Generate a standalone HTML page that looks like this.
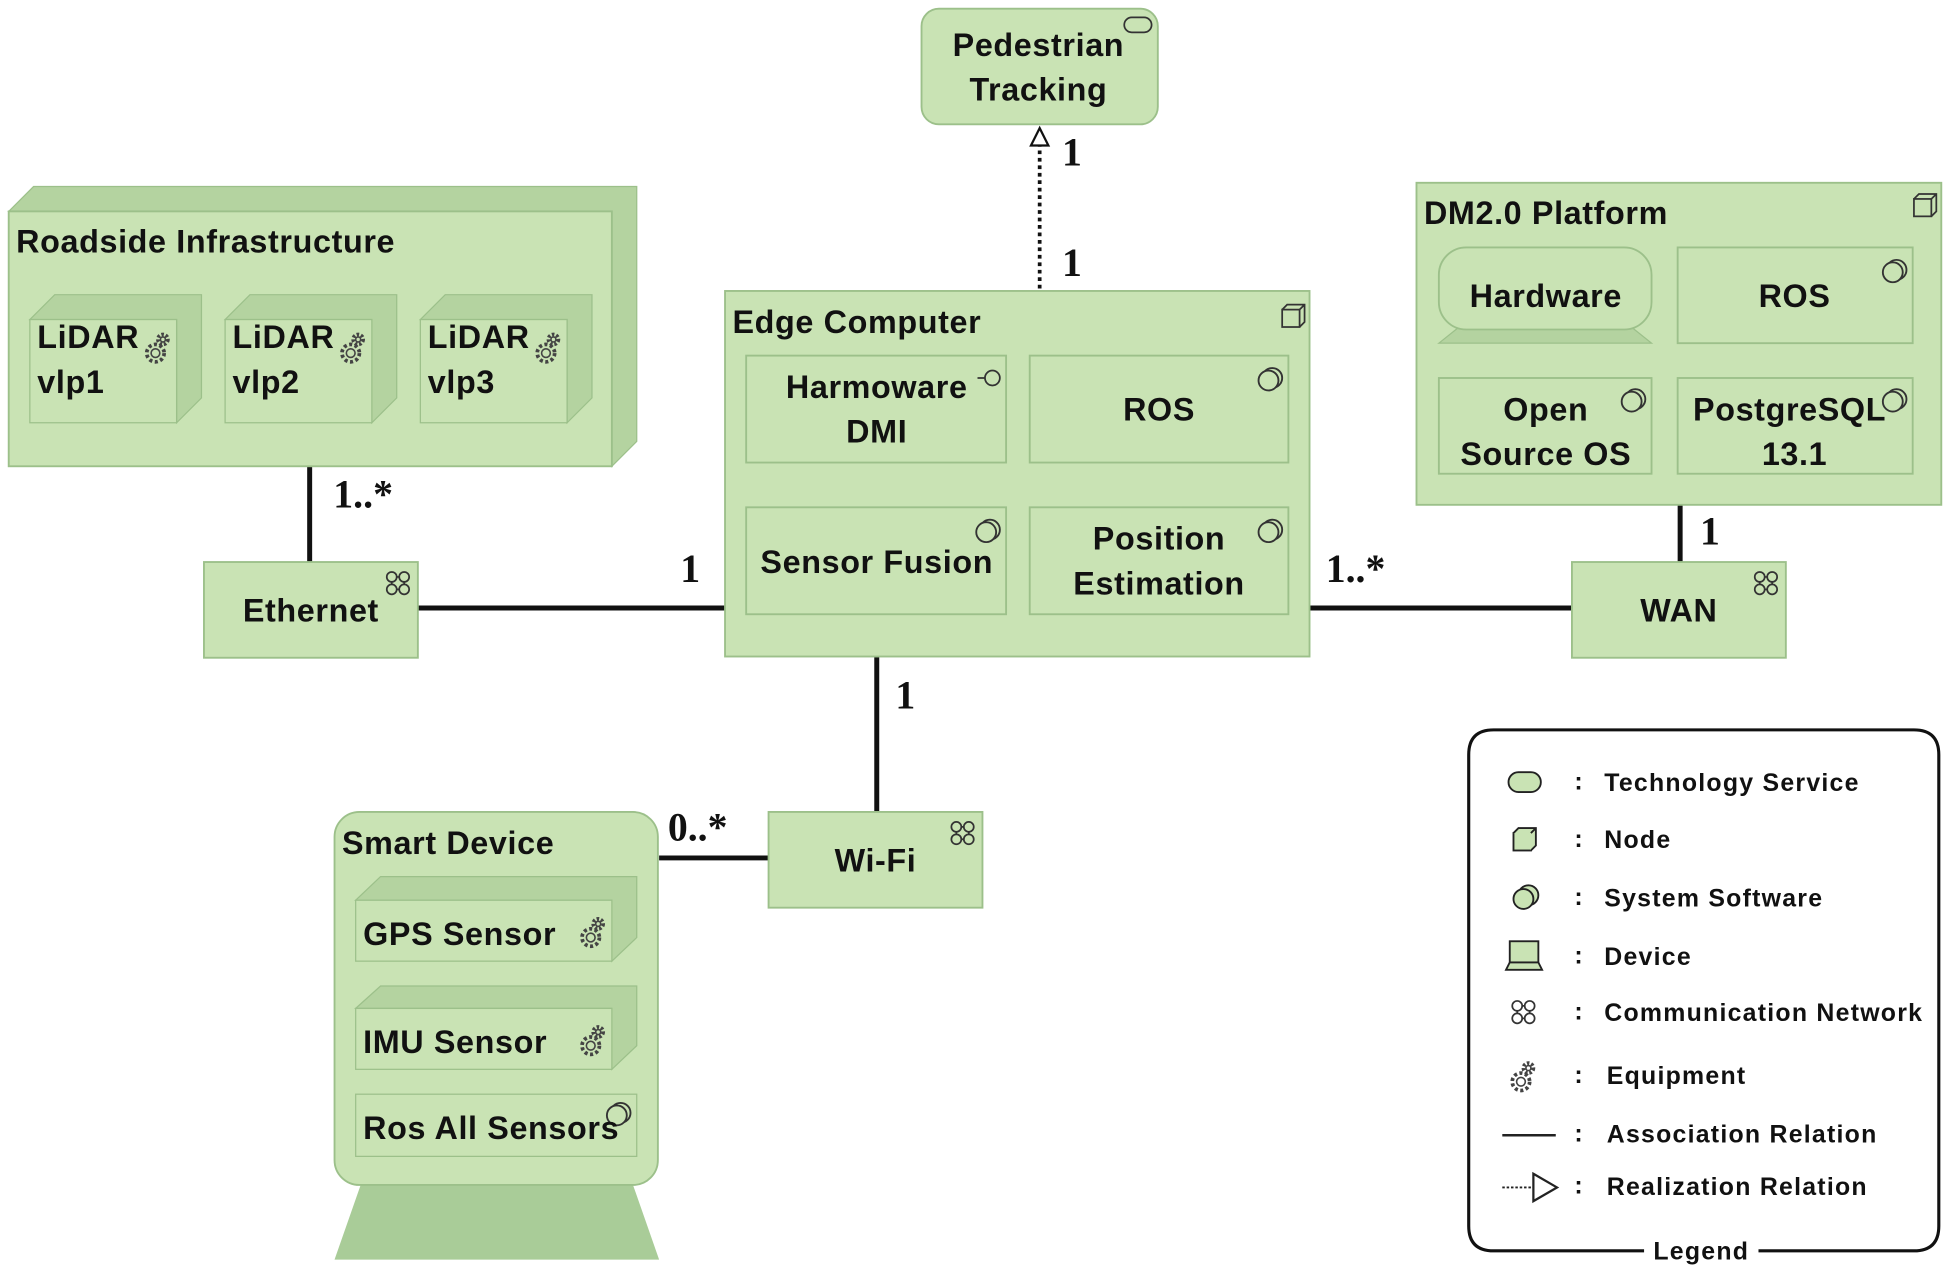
<!DOCTYPE html>
<html><head><meta charset="utf-8"><style>
html,body{margin:0;padding:0;background:#fff;}
svg{display:block;}
text{font-family:"Liberation Sans","DejaVu Sans",sans-serif;font-weight:bold;fill:#111;}
.t{font-size:26px;letter-spacing:0.5px;}
.n{font-family:"Liberation Serif",serif;font-size:32px;}
.l{font-size:20px;letter-spacing:1px;}
</style></head><body>
<svg width="1950" height="1272" viewBox="0 0 1568 1023" preserveAspectRatio="none" xmlns="http://www.w3.org/2000/svg">
<defs>
<g id="ss"><circle cx="3" cy="0" r="8" fill="none" stroke="#333" stroke-width="1.5"/><circle cx="0" cy="2" r="8" fill="#c9e3b4" stroke="#333" stroke-width="1.5"/></g>
<g id="gear" fill="none" stroke="#444" stroke-width="1.3"><circle cx="4" cy="-7" r="4" stroke-dasharray="2 1.5" stroke-width="3"/><circle cx="4" cy="-7" r="2"/><circle cx="-2" cy="4" r="7" stroke-dasharray="2.5 2" stroke-width="3"/><circle cx="-2" cy="4" r="3.5"/></g>
<g id="net" fill="none" stroke="#333" stroke-width="1.4"><circle cx="-5" cy="-5" r="4"/><circle cx="5" cy="-5" r="4"/><circle cx="-5" cy="5" r="4"/><circle cx="5" cy="5" r="4"/><path d="M-1-5H1M-1 5H1M-5-1V1M5-1V1"/></g>
<g id="node" fill="none" stroke="#333" stroke-width="1.4"><rect x="-9" y="-6" width="14" height="14"/><path d="M-9-6l4-4h14v14l-4 4M5-6l4-4"/></g>
</defs>
<g stroke="#111" stroke-width="4" fill="none">
<line x1="249" y1="375" x2="249" y2="452"/>
<line x1="336" y1="489" x2="583" y2="489"/>
<line x1="1053" y1="489" x2="1264" y2="489"/>
<line x1="1351" y1="406" x2="1351" y2="452"/>
<line x1="705" y1="528" x2="705" y2="653"/>
<line x1="530" y1="690" x2="618" y2="690"/>
</g>
<line x1="836" y1="232" x2="836" y2="117" stroke="#111" stroke-width="3" stroke-dasharray="3 3"/>
<path d="M836 103 L829 117 L843 117 Z" fill="#fff" stroke="#111" stroke-width="1.8"/>
<rect x="741" y="7" width="190" height="93" rx="14" fill="#c9e3b4" stroke="#9cc08a" stroke-width="1.5"/>
<rect x="904" y="14" width="22" height="12" rx="6" fill="none" stroke="#333" stroke-width="1.4"/>
<text class="t" x="835" y="45" text-anchor="middle">Pedestrian</text>
<text class="t" x="835" y="81" text-anchor="middle">Tracking</text>
<text class="n" x="854" y="133">1</text>
<text class="n" x="854" y="222">1</text>
<path d="M7 170 L27 150 L512 150 L512 355 L492 375 L492 170 Z" fill="#b4d3a0" stroke="#9cc08a"/>
<rect x="7" y="170" width="485" height="205" fill="#c9e3b4" stroke="#9cc08a" stroke-width="1.5"/>
<text class="t" x="13" y="203">Roadside Infrastructure</text>
<g>
<path d="M24 257 L44 237 L162 237 L162 320 L142 340 L142 257Z" fill="#b4d3a0" stroke="#9cc08a"/>
<rect x="24" y="257" width="118" height="83" fill="#c9e3b4" stroke="#9cc08a"/>
<text class="t" x="30" y="280">LiDAR</text><text class="t" x="30" y="316">vlp1</text>
<use href="#gear" x="127" y="280"/>
<path d="M181 257 L201 237 L319 237 L319 320 L299 340 L299 257Z" fill="#b4d3a0" stroke="#9cc08a"/>
<rect x="181" y="257" width="118" height="83" fill="#c9e3b4" stroke="#9cc08a"/>
<text class="t" x="187" y="280">LiDAR</text><text class="t" x="187" y="316">vlp2</text>
<use href="#gear" x="284" y="280"/>
<path d="M338 257 L358 237 L476 237 L476 320 L456 340 L456 257Z" fill="#b4d3a0" stroke="#9cc08a"/>
<rect x="338" y="257" width="118" height="83" fill="#c9e3b4" stroke="#9cc08a"/>
<text class="t" x="344" y="280">LiDAR</text><text class="t" x="344" y="316">vlp3</text>
<use href="#gear" x="441" y="280"/>
</g>
<text class="n" x="268" y="408">1..*</text>
<rect x="164" y="452" width="172" height="77" fill="#c9e3b4" stroke="#9cc08a" stroke-width="1.5"/>
<use href="#net" x="320" y="469"/>
<text class="t" x="250" y="500" text-anchor="middle">Ethernet</text>
<text class="n" x="547" y="468">1</text>
<rect x="583" y="234" width="470" height="294" fill="#c9e3b4" stroke="#9cc08a" stroke-width="1.5"/>
<use href="#node" x="1040" y="255"/>
<text class="t" x="589" y="268">Edge Computer</text>
<g fill="#c9e3b4" stroke="#9cc08a" stroke-width="1.5">
<rect x="600" y="286" width="209" height="86"/><rect x="828" y="286" width="208" height="86"/>
<rect x="600" y="408" width="209" height="86"/><rect x="828" y="408" width="208" height="86"/>
</g>
<circle cx="798" cy="304" r="6" fill="none" stroke="#333" stroke-width="1.4"/><line x1="786" y1="304" x2="792" y2="304" stroke="#333" stroke-width="1.4"/>
<use href="#ss" x="1020" y="304"/><use href="#ss" x="793" y="426"/><use href="#ss" x="1020" y="426"/>
<text class="t" x="705" y="320" text-anchor="middle">Harmoware</text>
<text class="t" x="705" y="356" text-anchor="middle">DMI</text>
<text class="t" x="932" y="338" text-anchor="middle">ROS</text>
<text class="t" x="705" y="461" text-anchor="middle">Sensor Fusion</text>
<text class="t" x="932" y="442" text-anchor="middle">Position</text>
<text class="t" x="932" y="478" text-anchor="middle">Estimation</text>
<text class="n" x="1066" y="468">1..*</text>
<rect x="1264" y="452" width="172" height="77" fill="#c9e3b4" stroke="#9cc08a" stroke-width="1.5"/>
<use href="#net" x="1420" y="469"/>
<text class="t" x="1350" y="500" text-anchor="middle">WAN</text>
<text class="n" x="1367" y="438">1</text>
<rect x="1139" y="147" width="422" height="259" fill="#c9e3b4" stroke="#9cc08a" stroke-width="1.5"/>
<use href="#node" x="1548" y="166"/>
<text class="t" x="1145" y="180">DM2.0 Platform</text>
<path d="M1157 276 L1172 264 L1313 264 L1328 276Z" fill="#b4d3a0" stroke="#9cc08a"/>
<rect x="1157" y="199" width="171" height="66" rx="22" fill="#c9e3b4" stroke="#9cc08a" stroke-width="1.5"/>
<g fill="#c9e3b4" stroke="#9cc08a" stroke-width="1.5">
<rect x="1349" y="199" width="189" height="77"/><rect x="1157" y="304" width="171" height="77"/><rect x="1349" y="304" width="189" height="77"/>
</g>
<use href="#ss" x="1522" y="217"/><use href="#ss" x="1312" y="321"/><use href="#ss" x="1522" y="321"/>
<text class="t" x="1243" y="247" text-anchor="middle">Hardware</text>
<text class="t" x="1443" y="247" text-anchor="middle">ROS</text>
<text class="t" x="1243" y="338" text-anchor="middle">Open</text>
<text class="t" x="1243" y="374" text-anchor="middle">Source OS</text>
<text class="t" x="1439" y="338" text-anchor="middle">PostgreSQL</text>
<text class="t" x="1443" y="374" text-anchor="middle">13.1</text>
<text class="n" x="720" y="570">1</text>
<rect x="618" y="653" width="172" height="77" fill="#c9e3b4" stroke="#9cc08a" stroke-width="1.5"/>
<use href="#net" x="774" y="670"/>
<text class="t" x="704" y="701" text-anchor="middle">Wi-Fi</text>
<text class="n" x="537" y="676">0..*</text>
<path d="M290 953 L509 953 L530 1013 L269 1013Z" fill="#a9cc98"/>
<rect x="269" y="653" width="260" height="300" rx="20" fill="#c9e3b4" stroke="#9cc08a" stroke-width="1.5"/>
<text class="t" x="275" y="687">Smart Device</text>
<path d="M286 724 L306 705 L512 705 L512 754 L492 773 L492 724Z" fill="#b4d3a0" stroke="#9cc08a"/>
<rect x="286" y="724" width="206" height="49" fill="#c9e3b4" stroke="#9cc08a"/>
<text class="t" x="292" y="760">GPS Sensor</text><use href="#gear" x="477" y="750"/>
<path d="M286 811 L306 793 L512 793 L512 841 L492 860 L492 811Z" fill="#b4d3a0" stroke="#9cc08a"/>
<rect x="286" y="811" width="206" height="49" fill="#c9e3b4" stroke="#9cc08a"/>
<text class="t" x="292" y="847">IMU Sensor</text><use href="#gear" x="477" y="837"/>
<rect x="286" y="880" width="226" height="50" fill="#c9e3b4" stroke="#9cc08a"/>
<use href="#ss" x="496" y="895"/>
<text class="t" x="292" y="916">Ros All Sensors</text>
<path d="M1322 1006 L1201 1006 Q1181 1006 1181 986 L1181 607 Q1181 587 1201 587 L1539 587 Q1559 587 1559 607 L1559 986 Q1559 1006 1539 1006 L1414 1006" fill="none" stroke="#111" stroke-width="2.5"/>
<text class="l" x="1368" y="1013" text-anchor="middle">Legend</text>
<rect x="1213" y="621" width="26" height="16" rx="8" fill="#c9e3b4" stroke="#222" stroke-width="1.5"/>
<g transform="translate(1227,676)"><rect x="-10" y="-6" width="14" height="14" fill="#c9e3b4" stroke="#222" stroke-width="1.5"/><path d="M-10-6l4-4h14v14l-4 4M4-6l4-4" fill="#c9e3b4" stroke="#222" stroke-width="1.5"/></g>
<circle cx="1229" cy="720" r="8" fill="#c9e3b4" stroke="#222" stroke-width="1.5"/><circle cx="1225" cy="723" r="8" fill="#c9e3b4" stroke="#222" stroke-width="1.5"/>
<rect x="1214" y="757" width="23" height="17" fill="#c9e3b4" stroke="#222" stroke-width="1.5"/><path d="M1211 780 L1214 774 L1237 774 L1240 780Z" fill="#c9e3b4" stroke="#222" stroke-width="1.5"/>
<use href="#net" x="1225" y="814"/>
<use href="#gear" x="1225" y="866"/>
<line x1="1208" y1="913" x2="1251" y2="913" stroke="#222" stroke-width="2"/>
<line x1="1208" y1="955" x2="1233" y2="955" stroke="#222" stroke-width="1.5" stroke-dasharray="2 1.5"/>
<path d="M1233 944 L1252 955 L1233 966Z" fill="#fff" stroke="#222" stroke-width="1.8"/>
<text class="l" x="1266" y="635">:</text><text class="l" x="1290" y="636">Technology Service</text>
<text class="l" x="1266" y="681">:</text><text class="l" x="1290" y="682">Node</text>
<text class="l" x="1266" y="728">:</text><text class="l" x="1290" y="729">System Software</text>
<text class="l" x="1266" y="775">:</text><text class="l" x="1290" y="776">Device</text>
<text class="l" x="1266" y="820">:</text><text class="l" x="1290" y="821">Communication Network</text>
<text class="l" x="1266" y="871">:</text><text class="l" x="1292" y="872">Equipment</text>
<text class="l" x="1266" y="918">:</text><text class="l" x="1292" y="919">Association Relation</text>
<text class="l" x="1266" y="960">:</text><text class="l" x="1292" y="961">Realization Relation</text>
</svg>
</body></html>
